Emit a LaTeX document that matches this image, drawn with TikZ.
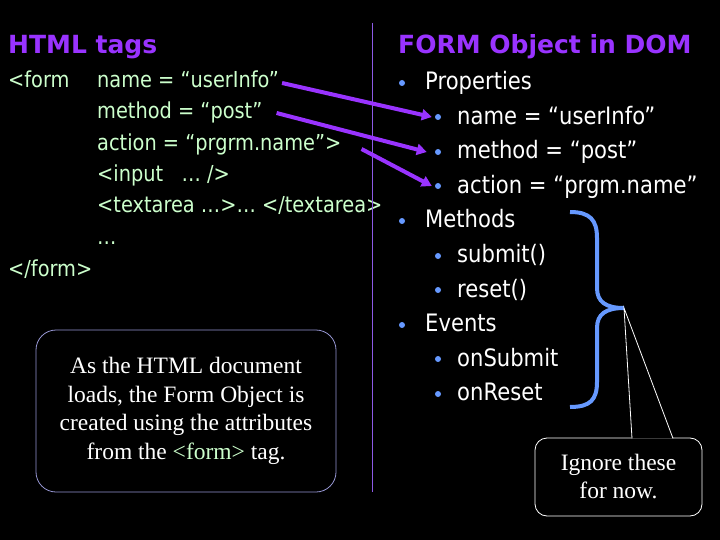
\documentclass[tikz,border=0pt]{standalone}
\usepackage{fontspec}
\setmainfont{Liberation Serif}
\newfontfamily\slidefont[FakeStretch=0.88]{DejaVu Sans}
\newfontfamily\headfont{DejaVu Sans}
\usetikzlibrary{arrows.meta,positioning,calc}
\definecolor{headPurple}{RGB}{153,51,255}
\definecolor{codeGreen}{RGB}{204,255,204}
\definecolor{bulletBlue}{RGB}{102,153,255}
\definecolor{rulePurple}{RGB}{140,90,230}
\definecolor{boxLavender}{RGB}{150,150,210}
\tikzset{
  heading/.style={anchor=base west, inner sep=0pt, text=headPurple, font=\headfont\bfseries\fontsize{25}{30}\selectfont},
  code/.style={anchor=base west, inner sep=0pt, text=codeGreen, font=\slidefont\fontsize{22}{26}\selectfont},
  item/.style={anchor=base west, inner sep=0pt, text=white, font=\slidefont\fontsize{24}{28}\selectfont},
  dot/.style={circle, fill=bulletBlue, inner sep=0pt, minimum size=6pt},
  link/.style={-{Triangle[length=10pt,width=11pt]}, line width=4pt, draw=headPurple},
  brace/.style={line width=4pt, draw=bulletBlue},
  note/.style={draw=boxLavender, line width=0.8pt, rounded corners=20pt, align=center, text=white, minimum width=300pt, minimum height=162pt, font=\fontsize{23.5}{28.5}\selectfont},
  callout/.style={draw=white, line width=0.8pt, rounded corners=12pt, align=center, text=white, minimum width=167pt, minimum height=78pt, font=\fontsize{23.5}{28}\selectfont}
}

\begin{document}
\begin{tikzpicture}[x=1pt,y=-1pt]
  \fill[black] (0,0) rectangle (720,540);

  % left column: the HTML source
  \node[heading] (htags) at (8,54) {HTML tags};
  \node[code] (lform) at (8,88) {<form};
  \node[code] (lname) at (97,88) {name = “userInfo”};
  \node[code] (lmethod) at (97,119) {method = “post”};
  \node[code] (laction) at (97,151) {action = “prgrm.name”>};
  \node[code] (linput) at (97,182) {<input\ \ \ … />};
  \node[code] (ltext) at (97,213) {<textarea …>… </textarea>};
  \node[code] (ldots) at (97,244) {…};
  \node[code] (lend) at (8,276) {</form>};

  \draw[rulePurple, line width=1pt] (372.5,23) -- (372.5,492);

  % right column: the DOM object
  \node[heading] (fdom) at (398,54) {FORM Object in DOM};
  \node[dot] (bprop) at (402,83) {};
  \node[item] (tprop) at (425,90) {Properties};
  \node[dot] (bname) at (438,117) {};
  \node[item] (tname) at (457,124.5) {name = “userInfo”};
  \node[dot] (bmethod) at (438,152) {};
  \node[item] (tmethod) at (457,159) {method = “post”};
  \node[dot] (baction) at (438,186) {};
  \node[item] (taction) at (457,193.5) {action = “prgm.name”};
  \node[dot] (bmeth) at (402,221) {};
  \node[item] (tmeth) at (425,228) {Methods};
  \node[dot] (bsubmit) at (438,256) {};
  \node[item] (tsubmit) at (457,262.5) {submit()};
  \node[dot] (breset) at (438,290) {};
  \node[item] (treset) at (457,297) {reset()};
  \node[dot] (bevents) at (402,325) {};
  \node[item] (tevents) at (425,331.5) {Events};
  \node[dot] (bonsub) at (438,359) {};
  \node[item] (tonsub) at (457,366) {onSubmit};
  \node[dot] (bonres) at (438,394) {};
  \node[item] (tonres) at (457,400.5) {onReset};

  \draw[link] ([shift={(3,-5)}]lname.base east) -- ([xshift=-3pt]bname.west);
  \draw[link] ([shift={(14,-6)}]lmethod.base east) -- ([xshift=-8pt]bmethod.west);
  \draw[link] ([shift={(20,-2)}]laction.base east) -- ([xshift=-3pt]baction.west);

  % brace over methods and events
  \coordinate (tip) at (624,308);
  \draw[brace] (570,212) .. controls (590,212) and (597,220) .. (597,238) -- (597,288)
    .. controls (597,302) and (606,308) .. (tip)
    .. controls (606,308) and (597,314) .. (597,328) -- (597,382)
    .. controls (597,400) and (590,407) .. (570,407);

  \node[note] (loads) at (186,411) {As the HTML document\\loads, the Form Object is\\created using the attributes\\from the \textcolor{codeGreen}{<form>} tag.};

  \node[callout] (ignore) at (618.5,477) {Ignore these\\for now.};
  \filldraw[fill=black, draw=white, line width=0.8pt] ($(ignore.north)+(13.5,0.8)$) -- (tip) -- ($(ignore.north)+(54.5,0.8)$);
\end{tikzpicture}
\end{document}
